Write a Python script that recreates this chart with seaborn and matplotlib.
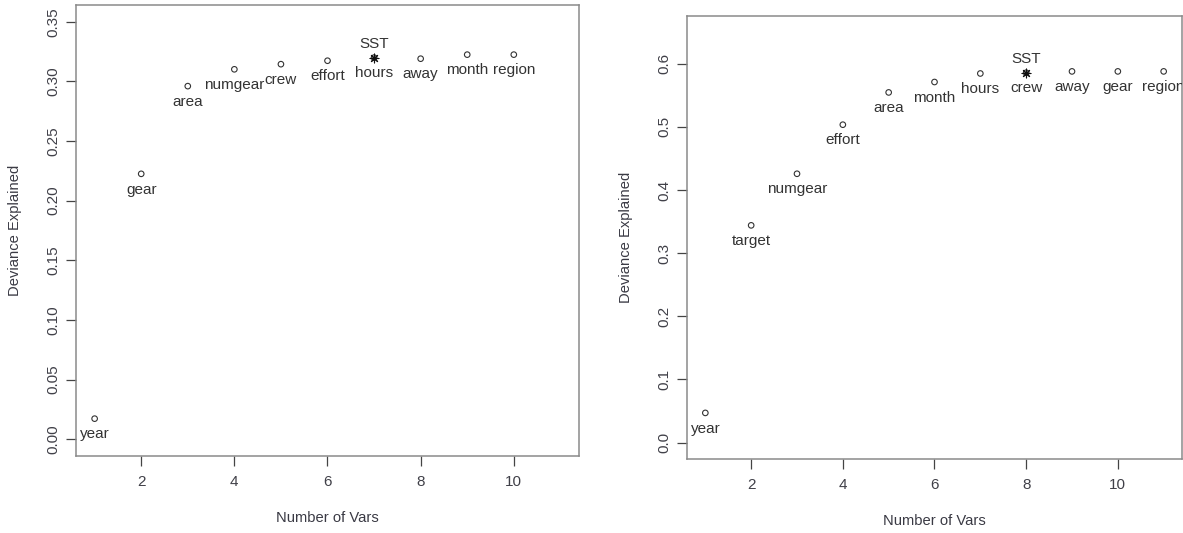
import matplotlib
matplotlib.use("Agg")
import matplotlib.pyplot as plt
import seaborn as sns
import pandas as pd

# Left model: variables added in order and cumulative deviance explained
left_vars = ["year", "gear", "area", "numgear", "crew", "effort",
             "hours", "away", "month", "region"]
left_dev = [0.0173, 0.2225, 0.2960, 0.3101, 0.3144, 0.3173,
            0.3199, 0.3190, 0.3224, 0.3224]
left_star_pos = 7
left_star_label = "SST"

# Right model
right_vars = ["year", "target", "numgear", "effort", "area", "month",
              "hours", "crew", "away", "gear", "region"]
right_dev = [0.0470, 0.3440, 0.4257, 0.5034, 0.5545, 0.5710,
             0.5845, 0.5857, 0.5878, 0.5878, 0.5878]
right_star_pos = 8
right_star_label = "SST"

left_yticks = [0.00, 0.05, 0.10, 0.15, 0.20, 0.25, 0.30, 0.35]
right_yticks = [0.0, 0.1, 0.2, 0.3, 0.4, 0.5, 0.6]
xticks = [2, 4, 6, 8, 10]

sns.set_style("white")
plt.rcParams["font.family"] = ["Liberation Sans", "DejaVu Sans"]

W, H = 1183, 533
fig = plt.figure(figsize=(W / 100, H / 100), dpi=100)

TXT = "#333333"
TICK_TXT = "#404048"
SPINE = "#8a8a8a"


def panel(rect_px, names, vals, star_pos, star_label, yticks, ylim, fmt,
          xlab_y, ylab_x):
    x0, y0, x1, y1 = rect_px  # left, top, right, bottom in pixels
    ax = fig.add_axes([x0 / W, (H - y1) / H, (x1 - x0) / W, (y1 - y0) / H])
    df = pd.DataFrame({"n": range(1, len(vals) + 1), "dev": vals, "var": names})
    sns.scatterplot(data=df, x="n", y="dev", ax=ax, marker="o", s=16,
                    facecolor="none", edgecolor="#333333", linewidth=0.8,
                    zorder=3)
    star = df[df["n"] == star_pos]
    sns.scatterplot(data=star, x="n", y="dev", ax=ax, marker=(8, 2, 0), s=40,
                    color="#111111", linewidth=0.8, zorder=4)
    for _, r in df.iterrows():
        ax.annotate(r["var"], (r["n"], r["dev"]), xytext=(0, -11.3),
                    textcoords="offset points", ha="center", va="center",
                    fontsize=11, color=TXT, annotation_clip=False, clip_on=True)
    sr = star.iloc[0]
    ax.annotate(star_label, (sr["n"], sr["dev"]), xytext=(0, 9.6),
                textcoords="offset points", ha="center", va="center",
                fontsize=11, color=TXT, clip_on=True)

    ax.set_xlim(0.6, 11.4)
    ax.set_ylim(*ylim)
    ax.set_xticks(xticks)
    ax.set_xticklabels([str(t) for t in xticks])
    ax.set_yticks(yticks)
    ax.set_yticklabels([fmt.format(t) for t in yticks], rotation=90,
                       va="center")
    ax.tick_params(axis="both", which="major", length=7.2, width=0.9,
                   color="#444444", labelsize=11, labelcolor=TICK_TXT,
                   left=True, bottom=True)
    ax.tick_params(axis="x", pad=6.3)
    ax.tick_params(axis="y", pad=4.4)
    for sp in ax.spines.values():
        sp.set_color(SPINE)
        sp.set_linewidth(1.1)
        sp.set_visible(True)

    ax.set_xlabel("Number of Vars", fontsize=10.6, color="#3a3a44")
    ax.set_ylabel("Deviance Explained", fontsize=10.6, color="#3a3a44")
    ax.xaxis.set_label_coords(0.5, (y1 - xlab_y) / (y1 - y0))
    ax.xaxis.label.set_va("center")
    ax.yaxis.set_label_coords((ylab_x - x0) / (x1 - x0), 0.5)
    ax.yaxis.label.set_va("center")
    return ax


panel((76, 5, 579, 456), left_vars, left_dev, left_star_pos, left_star_label,
      left_yticks, (-0.014, 0.364), "{:.2f}", 518, 15.5)
panel((687, 15.7, 1182, 459), right_vars, right_dev, right_star_pos,
      right_star_label, right_yticks, (-0.026, 0.676), "{:.1f}", 521, 626)

fig.savefig("out.png", dpi=100, facecolor="white")
